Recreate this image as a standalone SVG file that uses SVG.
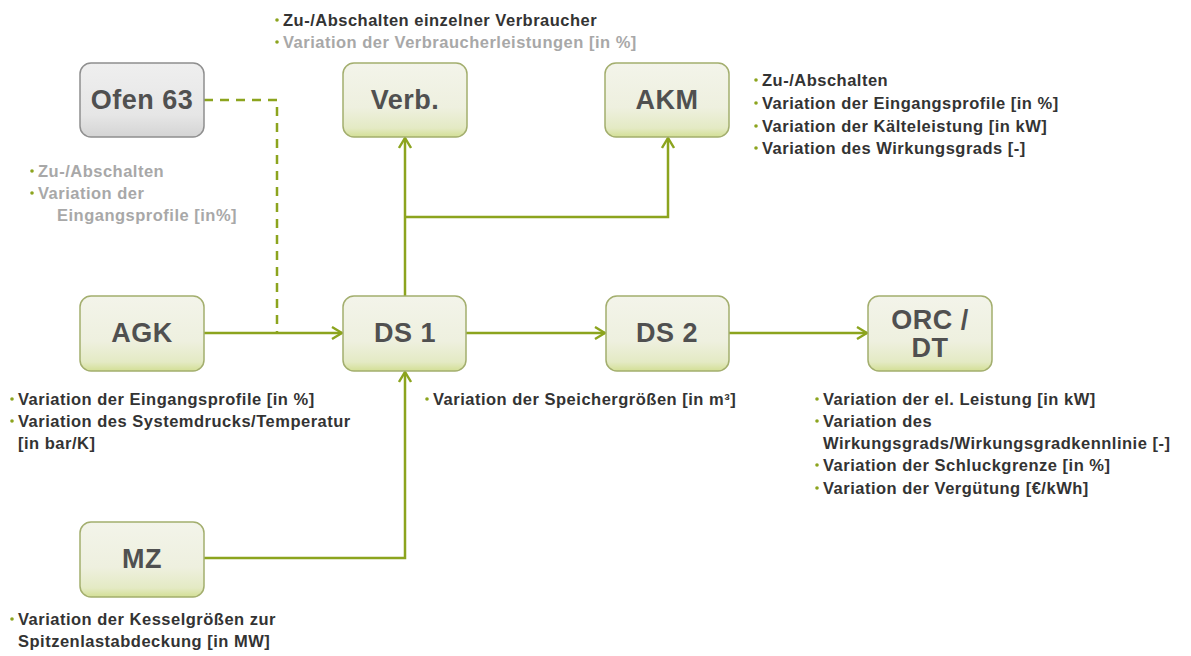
<svg xmlns="http://www.w3.org/2000/svg" width="1191" height="656" viewBox="0 0 1191 656">
  <defs>
    <linearGradient id="gBox" x1="0" y1="0" x2="0" y2="1">
      <stop offset="0" stop-color="#f3f4ea"/>
      <stop offset="0.6" stop-color="#eef0df"/>
      <stop offset="0.88" stop-color="#e4eac4"/>
      <stop offset="1" stop-color="#d3df95"/>
    </linearGradient>
    <linearGradient id="gGray" x1="0" y1="0" x2="0" y2="1">
      <stop offset="0" stop-color="#efefef"/>
      <stop offset="0.7" stop-color="#e6e6e6"/>
      <stop offset="1" stop-color="#d4d4d4"/>
    </linearGradient>
    <marker id="arr" viewBox="0 0 12 14" refX="11" refY="7" markerWidth="12" markerHeight="14" markerUnits="userSpaceOnUse" orient="auto">
      <path d="M1,1 L11,7 L1,13" fill="none" stroke="#8ca41e" stroke-width="2.4"/>
    </marker>
  </defs>
  <style>
    .box { fill: url(#gBox); stroke: #a3ae6e; stroke-width: 1.5; }
    .gray { fill: url(#gGray); stroke: #8f8f8f; stroke-width: 1.5; }
    .lbl { font-family: "Liberation Sans", Arial, sans-serif; font-weight: bold; font-size: 27px; fill: #505050; text-anchor: middle; letter-spacing: 0.5px; }
    .note { font-family: "Liberation Sans", Arial, sans-serif; font-weight: bold; font-size: 16.5px; fill: #333333; letter-spacing: 0.5px; }
    .faint { fill: #a8a8a8; }
    .dot { fill: #8ca41e; }
    .wire { fill: none; stroke: #8ca41e; stroke-width: 2.5; }
    .dash { stroke-dasharray: 9 7; }
  </style>

  <!-- connectors -->
  <g id="connectors">
    <polyline class="wire dash" points="204,100 277,100 277,333"/>
    <line class="wire" x1="204" y1="333" x2="342" y2="333" marker-end="url(#arr)"/>
    <line class="wire" x1="405" y1="296" x2="405" y2="138" marker-end="url(#arr)"/>
    <polyline class="wire" points="405,217 668,217 668,138" marker-end="url(#arr)"/>
    <line class="wire" x1="466" y1="333" x2="605" y2="333" marker-end="url(#arr)"/>
    <line class="wire" x1="729" y1="333" x2="867" y2="333" marker-end="url(#arr)"/>
    <polyline class="wire" points="204,558 405,558 405,372" marker-end="url(#arr)"/>
  </g>

  <!-- nodes -->
  <g id="ofen63">
    <rect class="gray" x="80" y="63" width="124" height="74" rx="11"/>
    <text class="lbl" x="142" y="109">Ofen 63</text>
  </g>
  <g id="verb">
    <rect class="box" x="343" y="63" width="124" height="74" rx="11"/>
    <text class="lbl" x="405" y="109">Verb.</text>
  </g>
  <g id="akm">
    <rect class="box" x="605" y="63" width="124" height="74" rx="11"/>
    <text class="lbl" x="667" y="109">AKM</text>
  </g>
  <g id="agk">
    <rect class="box" x="80" y="296" width="124" height="75" rx="11"/>
    <text class="lbl" x="142" y="342">AGK</text>
  </g>
  <g id="ds1">
    <rect class="box" x="343" y="296" width="123" height="75" rx="11"/>
    <text class="lbl" x="405" y="342">DS 1</text>
  </g>
  <g id="ds2">
    <rect class="box" x="606" y="296" width="123" height="75" rx="11"/>
    <text class="lbl" x="667" y="342">DS 2</text>
  </g>
  <g id="orc">
    <rect class="box" x="868" y="296" width="124" height="75" rx="11"/>
    <text class="lbl" x="930" y="329">ORC /</text>
    <text class="lbl" x="930" y="357">DT</text>
  </g>
  <g id="mz">
    <rect class="box" x="80" y="522" width="124" height="75" rx="11"/>
    <text class="lbl" x="142" y="568">MZ</text>
  </g>

  <!-- annotation lists -->
  <g id="notes-verb">
    <circle class="dot" cx="277" cy="20" r="1.8"/>
    <text class="note" x="283" y="26">Zu-/Abschalten einzelner Verbraucher</text>
    <circle class="dot" cx="277" cy="42" r="1.8"/>
    <text class="note faint" x="283" y="48">Variation der Verbraucherleistungen [in %]</text>
  </g>
  <g id="notes-akm">
    <circle class="dot" cx="756" cy="80" r="1.8"/>
    <text class="note" x="762" y="86">Zu-/Abschalten</text>
    <circle class="dot" cx="756" cy="103" r="1.8"/>
    <text class="note" x="762" y="109">Variation der Eingangsprofile [in %]</text>
    <circle class="dot" cx="756" cy="126" r="1.8"/>
    <text class="note" x="762" y="132">Variation der Kälteleistung [in kW]</text>
    <circle class="dot" cx="756" cy="148" r="1.8"/>
    <text class="note" x="762" y="154">Variation des Wirkungsgrads [-]</text>
  </g>
  <g id="notes-ofen">
    <circle class="dot" cx="32" cy="171" r="1.8"/>
    <text class="note faint" x="38" y="177">Zu-/Abschalten</text>
    <circle class="dot" cx="32" cy="193" r="1.8"/>
    <text class="note faint" x="38" y="199">Variation der</text>
    <text class="note faint" x="57" y="221">Eingangsprofile [in%]</text>
  </g>
  <g id="notes-agk">
    <circle class="dot" cx="12" cy="399" r="1.8"/>
    <text class="note" x="18" y="405">Variation der Eingangsprofile [in %]</text>
    <circle class="dot" cx="12" cy="421" r="1.8"/>
    <text class="note" x="18" y="427">Variation des Systemdrucks/Temperatur</text>
    <text class="note" x="18" y="449">[in bar/K]</text>
  </g>
  <g id="notes-ds1">
    <circle class="dot" cx="427" cy="399" r="1.8"/>
    <text class="note" x="433" y="405">Variation der Speichergrößen [in m³]</text>
  </g>
  <g id="notes-orc">
    <circle class="dot" cx="817" cy="399" r="1.8"/>
    <text class="note" x="823" y="405">Variation der el. Leistung [in kW]</text>
    <circle class="dot" cx="817" cy="421" r="1.8"/>
    <text class="note" x="823" y="427">Variation des</text>
    <text class="note" x="823" y="449">Wirkungsgrads/Wirkungsgradkennlinie [-]</text>
    <circle class="dot" cx="817" cy="465" r="1.8"/>
    <text class="note" x="823" y="471">Variation der Schluckgrenze [in %]</text>
    <circle class="dot" cx="817" cy="488" r="1.8"/>
    <text class="note" x="823" y="494">Variation der Vergütung [€/kWh]</text>
  </g>
  <g id="notes-mz">
    <circle class="dot" cx="12" cy="619" r="1.8"/>
    <text class="note" x="18" y="625">Variation der Kesselgrößen zur</text>
    <text class="note" x="18" y="647">Spitzenlastabdeckung [in MW]</text>
  </g>
</svg>
